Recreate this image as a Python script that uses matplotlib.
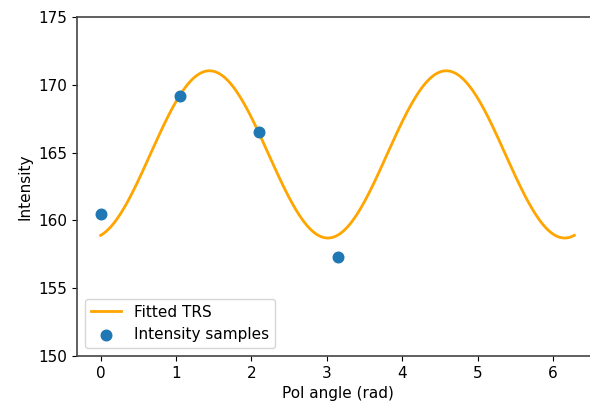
import numpy as np
import matplotlib
matplotlib.use("Agg")
import matplotlib.pyplot as plt

# polarizer angles and measured intensities
pol_angles = [0.0, np.pi / 3, 2 * np.pi / 3, np.pi]
intensities = [160.5, 169.2, 166.5, 157.3]

# least-squares fit of I = a + b*cos(2t) + c*sin(2t)
t = np.array(pol_angles)
design = np.column_stack([np.ones_like(t), np.cos(2 * t), np.sin(2 * t)])
coef, *_ = np.linalg.lstsq(design, np.array(intensities), rcond=None)

theta = np.linspace(0, 2 * np.pi, 400)
fitted = coef[0] + coef[1] * np.cos(2 * theta) + coef[2] * np.sin(2 * theta)

plt.rcParams['font.size'] = 11
plt.rcParams['axes.edgecolor'] = '#444444'
plt.rcParams['axes.linewidth'] = 1.2
fig = plt.figure(figsize=(5.9, 4.05), dpi=100)
ax = fig.add_axes([77 / 590, 1 - 356 / 405, 521 / 590, 339 / 405])

ax.plot(theta, fitted, color='orange', linewidth=2, label='Fitted TRS')
ax.scatter(pol_angles, intensities, color='tab:blue', s=58, zorder=3,
           label='Intensity samples')

ax.set_ylim(150, 175)
ax.set_xlabel('Pol angle (rad)')
ax.set_ylabel('Intensity')
ax.spines['right'].set_visible(False)
ax.legend(loc='lower left')

fig.savefig('out.png', dpi=100)
